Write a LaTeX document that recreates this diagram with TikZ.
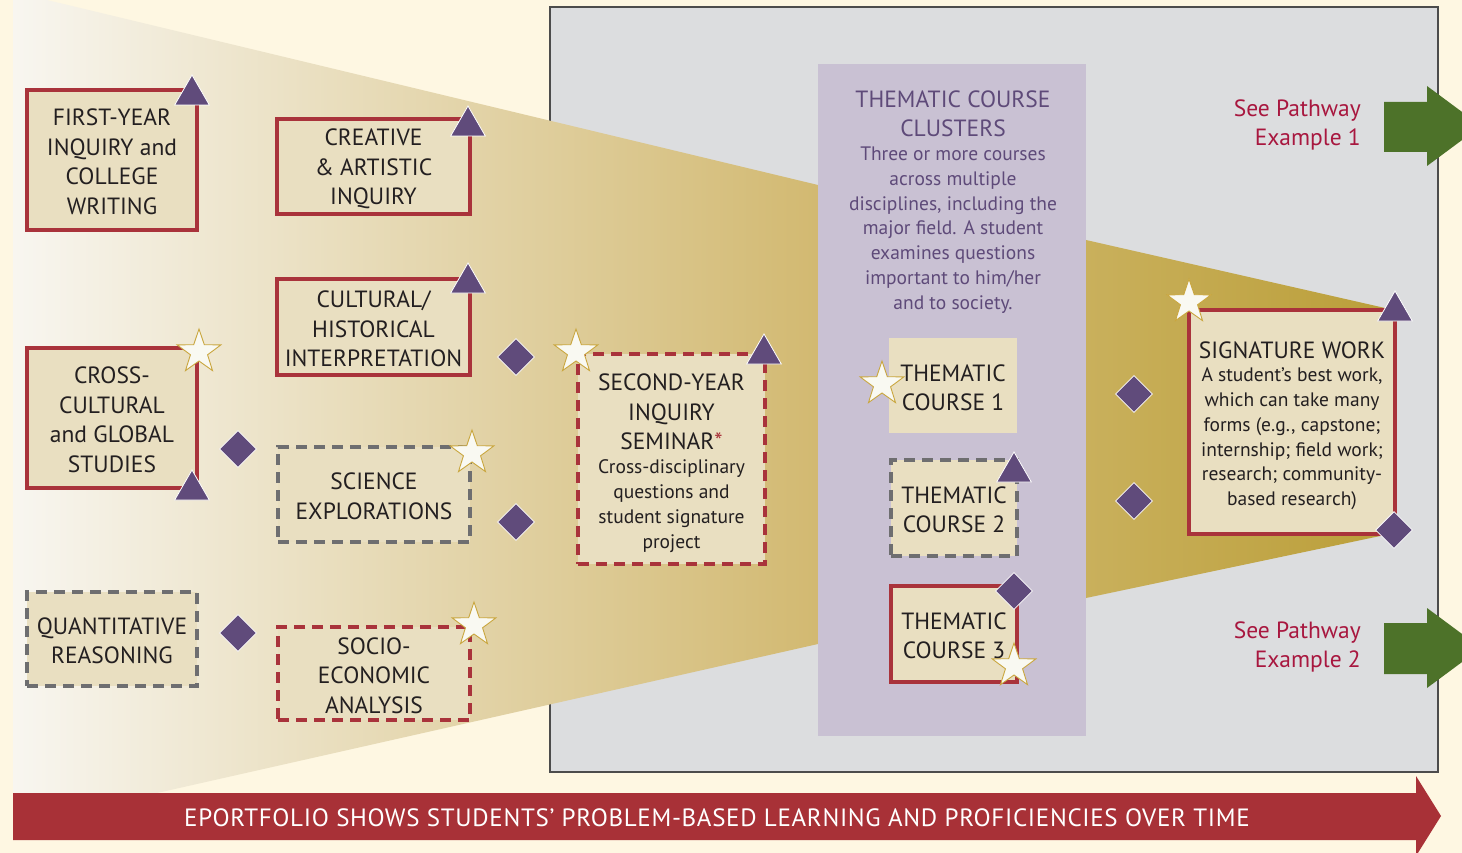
\documentclass[tikz,border=0pt]{standalone}
\usepackage{fontspec}
\setmainfont{PT Sans}
\newfontfamily\banfont[LetterSpace=2.7]{PT Sans}
\usetikzlibrary{shapes.geometric}
\definecolor{cream}{HTML}{FEF7E2}
\definecolor{boxfill}{HTML}{E9DFC1}
\definecolor{redb}{HTML}{A9333B}
\definecolor{grayd}{HTML}{6E6E70}
\definecolor{purp}{HTML}{604B7B}
\definecolor{panelc}{HTML}{DCDDDF}
\definecolor{purpanel}{HTML}{C9C1D3}
\definecolor{titlep}{HTML}{5E4A79}
\definecolor{redtext}{HTML}{A8173F}
\definecolor{greenc}{HTML}{4D7229}
\definecolor{bannerc}{HTML}{A83137}
\definecolor{stargold}{HTML}{C9A63E}
\definecolor{starfill}{HTML}{F9F9F2}
\definecolor{txtc}{HTML}{231F20}
\definecolor{fl}{HTML}{F8F6F0}
\definecolor{fr}{HTML}{D2B971}
\definecolor{gl}{HTML}{C9B05C}
\definecolor{gr}{HTML}{BB9F3A}
\newcommand\fbig{\fontsize{23.5}{29.5}\selectfont}
\newcommand\fsmall{\fontsize{19.5}{24.8}\selectfont}
\tikzset{
 boxbase/.style={fill=boxfill, inner sep=0pt, align=center, text=txtc, font=\fbig},
 solidred/.style={boxbase, draw=redb, line width=3.5pt},
 dashred/.style={boxbase, draw=redb, line width=3.5pt, dash pattern=on 11pt off 7pt},
 dashgray/.style={boxbase, draw=grayd, line width=3.5pt, dash pattern=on 11pt off 7pt},
 tri/.style={regular polygon, regular polygon sides=3, minimum size=40pt, inner sep=0pt, fill=purp, draw=white, line width=0.8pt},
 dia/.style={diamond, minimum width=37pt, minimum height=37pt, inner sep=0pt, fill=purp, draw=white, line width=0.8pt},
 starx/.style={star, star points=5, star point ratio=2.55, minimum size=46pt, inner sep=0pt, fill=starfill, draw=stargold, line width=0.9pt},
 txtnode/.style={inner sep=0pt, align=center, text=txtc},
}
\begin{document}
\begin{tikzpicture}[x=1pt,y=-1pt]
\useasboundingbox (0,0) rectangle (1462,853);
\fill[cream] (0,0) rectangle (1462,853);
% gray panel
\draw[fill=panelc, draw=black!70, line width=1.3pt] (550,7) rectangle (1438,772);
% funnels
\shade[left color=fl, right color=fr] (13,0) -- (47,0) -- (818,185) -- (818,644) -- (157,793) -- (13,793) -- cycle;
\shade[left color=gl, right color=gr] (1086,240) -- (1385,308) -- (1385,535) -- (1086,598) -- cycle;
% purple panel
\fill[purpanel] (818,64) rectangle (1086,736);
\node[inner sep=0pt, align=center, text=titlep, font=\fontsize{23.5}{29}\selectfont] (ptitle) at (953,114) {THEMATIC COURSE\\CLUSTERS};
\node[inner sep=0pt, align=center, text=titlep, font=\fsmall] (psub) at (953,230) {Three or more courses\\across multiple\\disciplines, including the\\major field. A student\\examines questions\\important to him/her\\and to society.};
% left boxes
\node[solidred, minimum width=170pt, minimum height=140pt] (b1) at (112,160) {};
\node[txtnode, font=\fbig] (b1t) at (112,162) {FIRST-YEAR\\INQUIRY and\\COLLEGE\\WRITING};
\node[solidred, minimum width=193pt, minimum height=95pt] (b2) at (373.5,166.5) {};
\node[txtnode, font=\fbig] (b2t) at (373.5,169) {CREATIVE\\\& ARTISTIC\\INQUIRY};
\node[solidred, minimum width=193pt, minimum height=96pt] (b3) at (373.5,327) {};
\node[txtnode, font=\fbig] (b3t) at (373.5,329) {CULTURAL/\\HISTORICAL\\INTERPRETATION};
\node[solidred, minimum width=170pt, minimum height=140pt] (b4) at (112,418) {};
\node[txtnode, font=\fbig] (b4t) at (112,420) {CROSS-\\CULTURAL\\and GLOBAL\\STUDIES};
\node[dashgray, minimum width=192pt, minimum height=95pt] (b5) at (374,494.5) {};
\node[txtnode, font=\fbig] (b5t) at (374,496.5) {SCIENCE\\EXPLORATIONS};
\node[dashgray, minimum width=170pt, minimum height=94pt] (b6) at (112,639) {};
\node[txtnode, font=\fbig] (b6t) at (112,641) {QUANTITATIVE\\REASONING};
\node[dashred, minimum width=192pt, minimum height=93pt] (b7) at (374,673.5) {};
\node[txtnode, font=\fbig] (b7t) at (374,675.5) {SOCIO-\\ECONOMIC\\ANALYSIS};
% second year
\node[dashred, minimum width=187pt, minimum height=210pt] (b8) at (671.5,459) {};
\node[txtnode, font=\fbig] (b8t) at (671.5,412) {SECOND-YEAR\\INQUIRY\\SEMINAR\textcolor{redb}{*}};
\node[txtnode, font=\fsmall] (b8s) at (671.5,506) {Cross-disciplinary\\questions and\\student signature\\project};
% thematic courses
\node[boxbase, minimum width=128pt, minimum height=95pt] (c1) at (953,385.5) {};
\node[txtnode, font=\fbig] (c1t) at (953,388) {THEMATIC\\COURSE 1};
\node[dashgray, minimum width=126pt, minimum height=96pt] (c2) at (954,508) {};
\node[txtnode, font=\fbig] (c2t) at (954,510) {THEMATIC\\COURSE 2};
\node[solidred, minimum width=126pt, minimum height=96pt] (c3) at (954,634) {};
\node[txtnode, font=\fbig] (c3t) at (954,636) {THEMATIC\\COURSE 3};
% signature
\node[solidred, minimum width=206pt, minimum height=224pt] (sig) at (1292,422) {};
\node[txtnode, font=\fbig] (sigt) at (1292,350) {SIGNATURE WORK};
\node[txtnode, font=\fsmall] (sigs) at (1292,439) {A student’s best work,\\which can take many\\forms (e.g., capstone;\\internship; field work;\\research; community-\\based research)};
% pathways
\node[inner sep=0pt, align=right, text=redtext, font=\fbig, anchor=east] (p1) at (1361,125) {See Pathway\\Example 1};
\node[inner sep=0pt, align=right, text=redtext, font=\fbig, anchor=east] (p2) at (1361,647) {See Pathway\\Example 2};
\fill[greenc] (1384,102) -- (1427,102) -- (1427,86) -- (1481,126) -- (1427,166) -- (1427,152) -- (1384,152) -- cycle;
\fill[greenc] (1384,623) -- (1427,623) -- (1427,608) -- (1481,648) -- (1427,688) -- (1427,674) -- (1384,674) -- cycle;
% banner
\fill[bannerc] (13,793) -- (1416,793) -- (1416,776) -- (1441,816) -- (1416,856) -- (1416,840) -- (13,840) -- cycle;
\node[inner sep=0pt, text=white, font=\banfont\fontsize{25}{28}\selectfont] (ban) at (717,818) {EPORTFOLIO SHOWS STUDENTS’ PROBLEM-BASED LEARNING AND PROFICIENCIES OVER TIME};
% triangles
\node[tri] (t1) at (192,95) {};
\node[tri] (t2) at (468,126) {};
\node[tri] (t3) at (468,283) {};
\node[tri] (t4) at (192,490) {};
\node[tri] (t5) at (764,354) {};
\node[tri] (t6) at (1014,472) {};
\node[tri] (t7) at (1395,311) {};
% diamonds
\node[dia] (d1) at (516,357) {};
\node[dia] (d2) at (238,449) {};
\node[dia] (d3) at (516,522) {};
\node[dia] (d4) at (238,633) {};
\node[dia] (d5) at (1014,591) {};
\node[dia] (d6) at (1134,394) {};
\node[dia] (d7) at (1134,501) {};
\node[dia] (d8) at (1394,530) {};
% stars
\node[starx] (s1) at (199,352) {};
\node[starx] (s2) at (472,453) {};
\node[starx] (s3) at (474,625) {};
\node[starx] (s4) at (576,352) {};
\node[starx] (s5) at (882,384) {};
\node[starx] (s6) at (1014,666) {};
\node[starx] (s7) at (1189,302) {};
\end{tikzpicture}
\end{document}
